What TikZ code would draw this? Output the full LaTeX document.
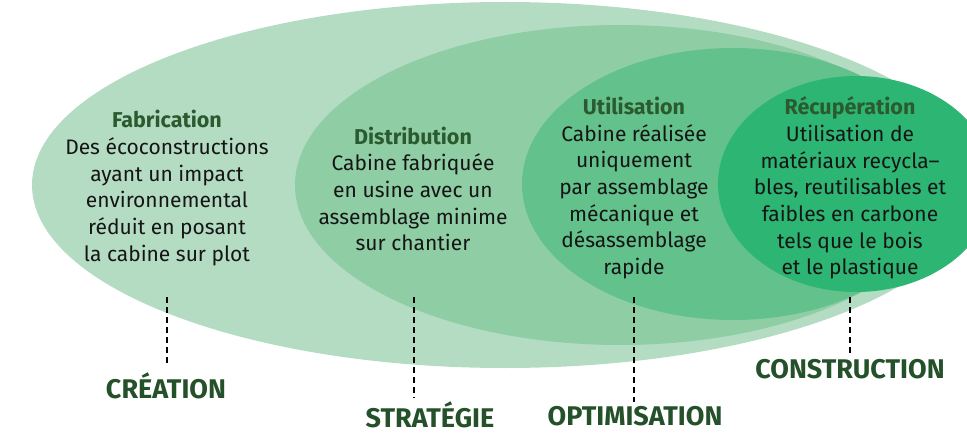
\documentclass[tikz,border=0pt]{standalone}
\usepackage{fontspec}
\setmainfont{Fira Sans}
\begin{document}
\definecolor{cA}{HTML}{B4DCC3}
\definecolor{cB}{HTML}{8FCEA5}
\definecolor{cC}{HTML}{63C18C}
\definecolor{cD}{HTML}{2DB574}
\definecolor{ttl}{HTML}{2C5A2F}
\definecolor{lbl}{HTML}{24502A}
\definecolor{body}{HTML}{151515}
\newcommand{\ttlfmt}[1]{{\color{ttl}\fontsize{21.5}{26.7}\selectfont\bfseries #1}}
\begin{tikzpicture}[x=1pt,y=-1pt,
  bodytext/.style={align=center,text=body,font=\fontsize{21}{26.7}\selectfont,inner sep=0pt},
  lbltext/.style={text=lbl,font=\fontsize{27}{30}\selectfont\bfseries,inner sep=0pt},
  dashline/.style={draw=black,line width=1.8pt,dash pattern=on 6pt off 4pt}]
\useasboundingbox (0,0) rectangle (967,441);
\fill[cA] (505,185) ellipse [x radius=473pt, y radius=183pt];
\fill[cB] (620,185) ellipse [x radius=325pt, y radius=160pt];
\fill[cC] (733,184) ellipse [x radius=211pt, y radius=136pt];
\fill[cD] (856,184) ellipse [x radius=138pt, y radius=108pt];

\node[bodytext] (fab) at (167,188) {\ttlfmt{Fabrication}\\Des écoconstructions\\ayant un impact\\environnemental\\réduit en posant\\la cabine sur plot};
\node[bodytext] (dis) at (413,189) {\ttlfmt{Distribution}\\Cabine fabriquée\\en usine avec un\\assemblage minime\\sur chantier};
\node[bodytext] (uti) at (634,188) {\ttlfmt{Utilisation}\\Cabine réalisée\\uniquement\\par assemblage\\mécanique et\\désassemblage\\rapide};
\node[bodytext] (rec) at (850,188) {\ttlfmt{Récupération}\\Utilisation de\\matériaux recycla–\\bles, reutilisables et\\faibles en carbone\\tels que le bois\\et le plastique};

\node[lbltext] (crea) at (166,386) {CRÉATION};
\node[lbltext] (stra) at (430,415) {STRATÉGIE};
\node[lbltext] (opti) at (635,416) {OPTIMISATION};
\node[lbltext] (cons) at (850,369) {CONSTRUCTION};

\coordinate (d1) at (167,297);
\coordinate (d2) at (414,297);
\coordinate (d3) at (634,297);
\coordinate (d4) at (850,297);
\draw[dashline] (d1) -- ([yshift=6pt]d1 |- crea.north);
\draw[dashline] (d2) -- ([yshift=4pt]d2 |- stra.north);
\draw[dashline] (d3) -- ([yshift=4pt]d3 |- opti.north);
\draw[dashline] (d4) -- ([yshift=4pt]d4 |- cons.north);
\end{tikzpicture}
\end{document}
